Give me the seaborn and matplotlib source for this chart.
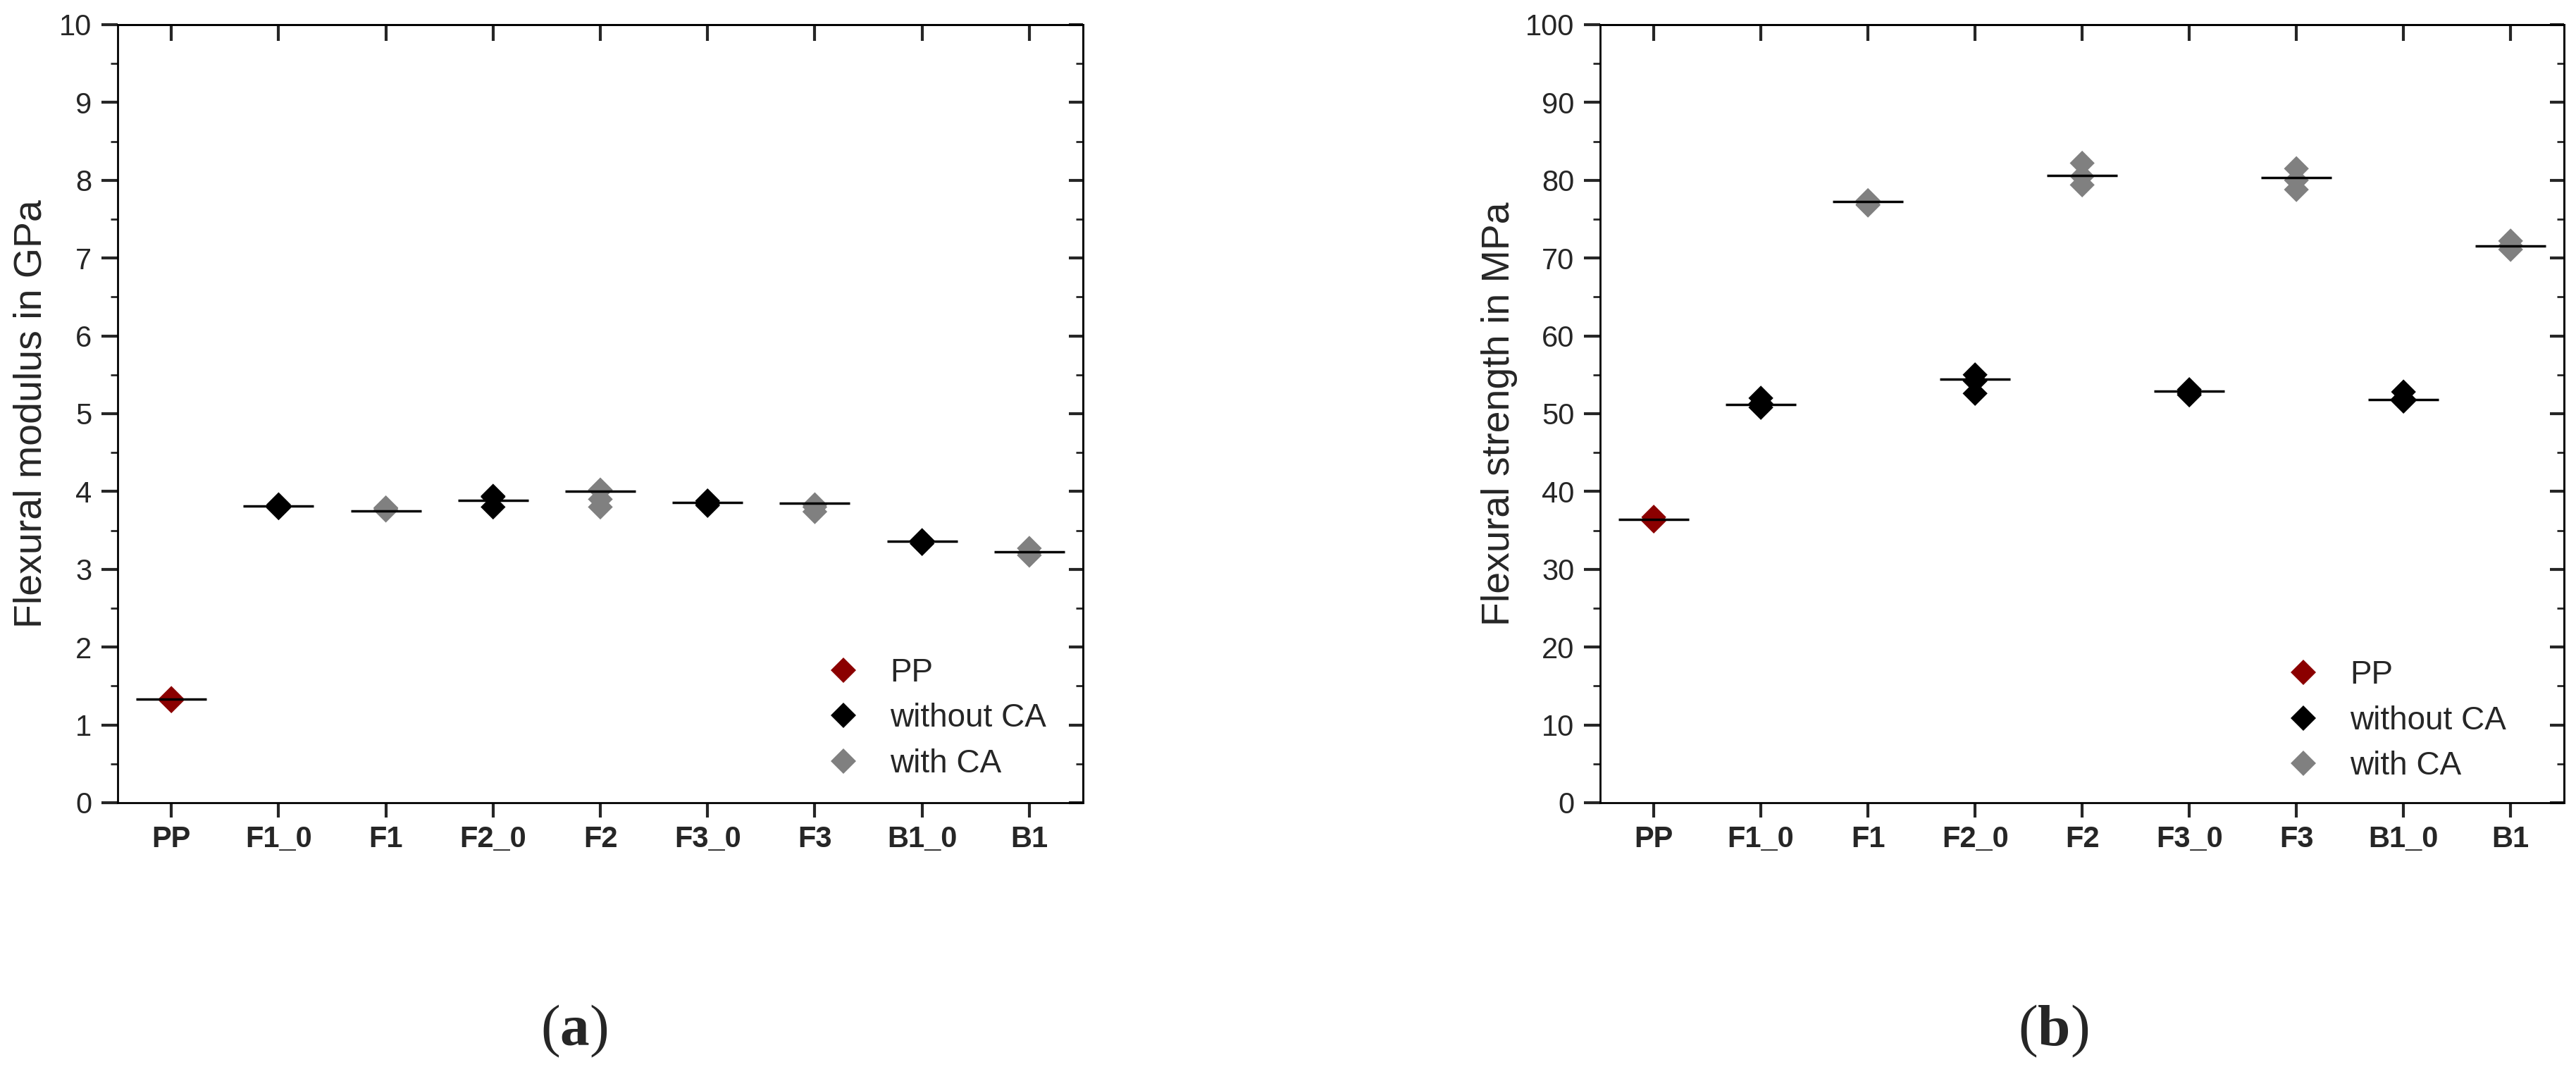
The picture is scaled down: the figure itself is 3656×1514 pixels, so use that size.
import matplotlib
matplotlib.use("Agg")
import matplotlib.pyplot as plt
from matplotlib.lines import Line2D
from matplotlib.ticker import MultipleLocator
import pandas as pd
import seaborn as sns

# ─── Data ─────────────────────────────────────────────────────────────────────
SAMPLES = ["PP", "F1_0", "F1", "F2_0", "F2", "F3_0", "F3", "B1_0", "B1"]
GROUPS = ["PP", "without CA", "with CA", "without CA", "with CA",
          "without CA", "with CA", "without CA", "with CA"]
GROUP_ORDER = ["PP", "without CA", "with CA"]

modulus_points = [
    [1.31, 1.34, 1.32],
    [3.80, 3.83, 3.79],
    [3.78, 3.79, 3.76],
    [3.94, 3.93, 3.80],
    [4.02, 3.90, 3.80],
    [3.88, 3.84, 3.82],
    [3.83, 3.80, 3.74],
    [3.37, 3.35, 3.33],
    [3.27, 3.21, 3.18],
]
modulus_mean = [1.33, 3.81, 3.75, 3.89, 4.00, 3.86, 3.85, 3.36, 3.22]

strength_points = [
    [36.2, 36.7, 36.4],
    [52.0, 51.3, 50.8],
    [77.4, 76.9, 76.8],
    [55.0, 54.2, 52.6],
    [82.2, 80.5, 79.4],
    [53.1, 52.6, 52.4],
    [81.5, 80.0, 78.8],
    [52.8, 51.9, 51.6],
    [72.2, 71.6, 71.1],
]
strength_mean = [36.4, 51.2, 77.3, 54.4, 80.6, 52.9, 80.3, 51.8, 71.6]

# ─── Style ────────────────────────────────────────────────────────────────────
PALETTE = {"PP": "#8b0000", "without CA": "#000000", "with CA": "#808080"}
MARKER_SIZE = 18

sns.set_style("ticks")
plt.rcParams["font.family"] = ["Liberation Sans", "DejaVu Sans"]
plt.rcParams["mathtext.fontset"] = "custom"
plt.rcParams["mathtext.rm"] = "Liberation Serif"
plt.rcParams["mathtext.bf"] = "Liberation Serif:bold"


def long_frame(points):
    rows = []
    for sample, group, vals in zip(SAMPLES, GROUPS, points):
        for v in vals:
            rows.append({"sample": sample, "group": group, "value": v})
    return pd.DataFrame(rows)


def draw_panel(ax, points, means, ylabel, ymax, step, legend_xy, labelpad):
    df = long_frame(points)
    sns.stripplot(data=df, x="sample", y="value", hue="group",
                  order=SAMPLES, hue_order=GROUP_ORDER, palette=PALETTE,
                  jitter=False, marker="D", size=MARKER_SIZE, linewidth=0,
                  legend=False, ax=ax, zorder=2)
    sns.pointplot(x=SAMPLES, y=means, order=SAMPLES, errorbar=None,
                  color="black", markers="_", markersize=72,
                  markeredgewidth=2.5, linestyle="none", ax=ax, zorder=3)

    ax.set_xlim(-0.5, len(SAMPLES) - 0.5)
    ax.set_ylim(0, ymax)
    ax.yaxis.set_major_locator(MultipleLocator(step))
    ax.yaxis.set_minor_locator(MultipleLocator(step / 2))
    ax.set_xlabel("")
    ax.set_ylabel(ylabel, fontsize=40, labelpad=labelpad)

    ax.tick_params(axis="y", which="major", direction="out", length=16.5,
                   width=3, pad=10, labelsize=30, left=True, right=False)
    ax.tick_params(axis="y", which="minor", direction="out", length=7.5,
                   width=2, left=True, right=False)
    ax.tick_params(axis="x", which="major", direction="out", length=15,
                   width=3, pad=8, labelsize=30, bottom=True, top=False)
    for lbl in ax.get_xticklabels():
        lbl.set_fontweight("bold")
    for sp in ax.spines.values():
        sp.set_linewidth(2)
        sp.set_color("black")

    # inward ticks on the right and top frame
    sec_y = ax.secondary_yaxis("right")
    sec_y.yaxis.set_major_locator(MultipleLocator(step))
    sec_y.yaxis.set_minor_locator(MultipleLocator(step / 2))
    sec_y.tick_params(which="major", direction="in", length=14.5, width=3,
                      labelright=False)
    sec_y.tick_params(which="minor", direction="in", length=7.5, width=2)
    sec_y.spines["right"].set_linewidth(2)

    sec_x = ax.secondary_xaxis("top")
    sec_x.set_xticks(range(len(SAMPLES)))
    sec_x.tick_params(which="major", direction="in", length=16.5, width=3,
                      labeltop=False)
    sec_x.spines["top"].set_linewidth(2)

    handles = [Line2D([], [], marker="D", linestyle="none",
                      markersize=MARKER_SIZE, color=PALETTE[g],
                      markeredgewidth=0, label=g) for g in GROUP_ORDER]
    ax.legend(handles=handles, loc="lower left", bbox_to_anchor=legend_xy,
              frameon=False, fontsize=33, handlelength=0.9,
              handletextpad=1.0, labelspacing=0.45, borderpad=0,
              borderaxespad=0)


fig = plt.figure(figsize=(36.56, 15.14), dpi=100)
ax_a = fig.add_axes([0.0457, 0.2477, 0.3747, 0.7292])
ax_b = fig.add_axes([0.6212, 0.2477, 0.3742, 0.7292])

draw_panel(ax_a, modulus_points, modulus_mean, "Flexural modulus in GPa",
           10, 1, (0.7365, 0.030), 10)
draw_panel(ax_b, strength_points, strength_mean, "Flexural strength in MPa",
           100, 10, (0.714, 0.027), 8)

fig.text(815 / 3656, 1 - 1463 / 1514, r"($\mathbf{a}$)", fontsize=60,
         family="Liberation Serif", ha="center", va="center")
fig.text(2914 / 3656, 1 - 1463 / 1514, r"($\mathbf{b}$)", fontsize=60,
         family="Liberation Serif", ha="center", va="center")

fig.savefig("out.png", dpi=100, facecolor="white")
